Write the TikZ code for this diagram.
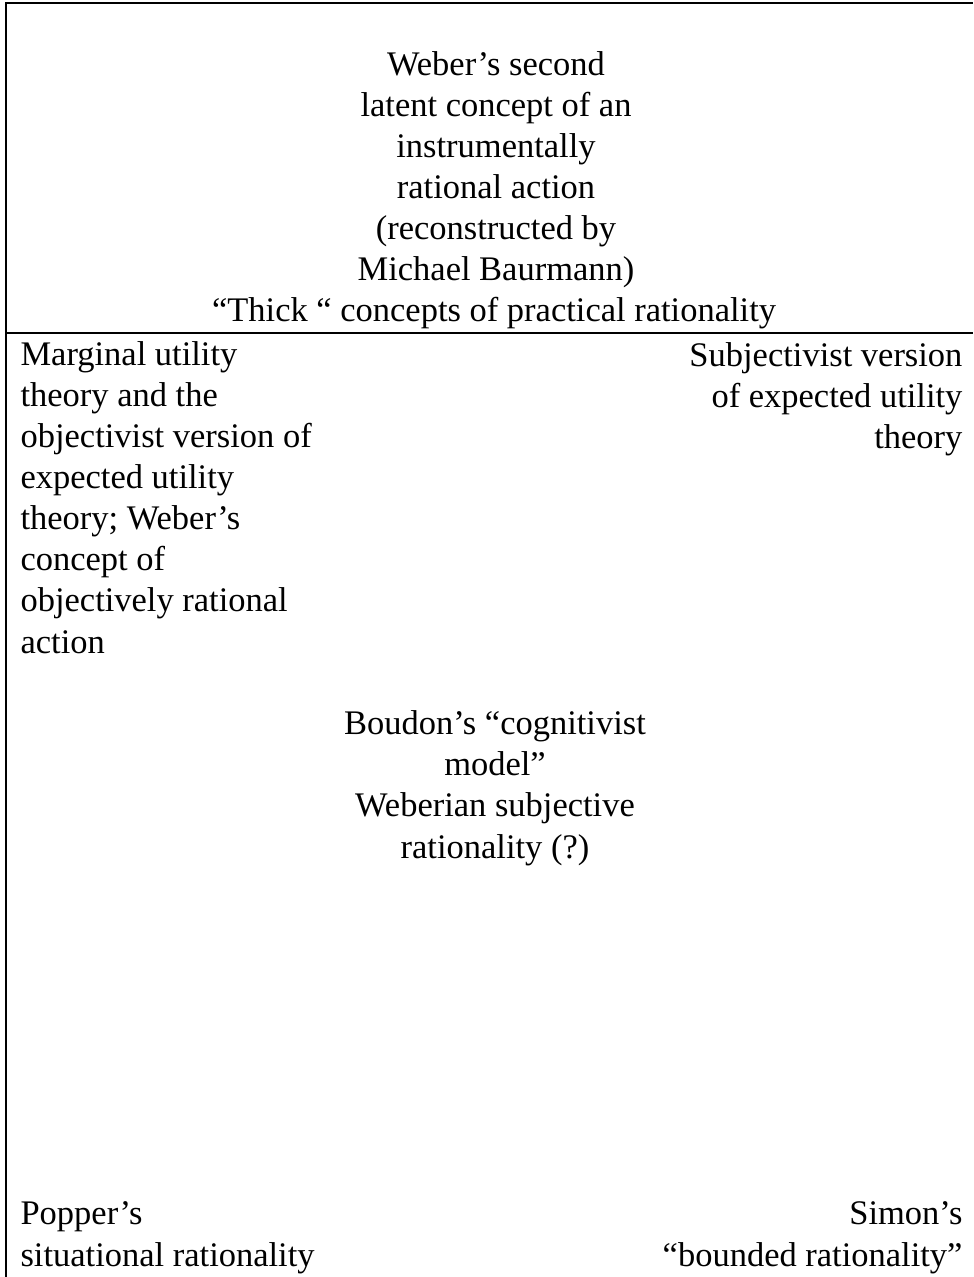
\documentclass[tikz,border=0pt]{standalone}
\usepackage{fontspec}
\setmainfont{Liberation Serif}
\usetikzlibrary{positioning}

\begin{document}
\begin{tikzpicture}[x=0.348pt,y=-0.348pt,
    txt/.style={inner sep=0pt,font=\fontsize{12pt}{14.3pt}\selectfont},
    rule/.style={line width=1pt}]
       \useasboundingbox (0,0) rectangle (973,1277);
       % multi-line nodes sit on the baseline of their last line
       \node[txt,align=center,anchor=base] (Weber) at (496,281)
          {Weber’s second\\latent concept of an\\instrumentally\\rational action\\(reconstructed by\\Michael Baurmann)};
       \node[txt,anchor=base] (Thick) at (494,322) {“Thick “ concepts of practical rationality};
       \node[txt,align=left,anchor=base west] (Marg) at (20,653)
          {Marginal utility\\theory and the\\objectivist version of\\expected utility\\theory; Weber’s\\concept of\\objectively rational\\action};
       \node[txt,align=right,anchor=base east] (Subj) at (963,449)
          {Subjectivist version\\of expected utility\\theory};
       \node[txt,align=center,anchor=base] (Boudon) at (495,858)
          {Boudon’s “cognitivist\\model”\\Weberian subjective\\rationality (?)};
       \node[txt,align=left,anchor=base west] (Popper) at (20,1266)
          {Popper’s\\situational rationality};
       \node[txt,align=right,anchor=base east] (Simon) at (963,1266)
          {Simon’s\\“bounded rationality”};
       \coordinate (TL) at (6,3);
       \coordinate (TR) at (973,3);
       \coordinate (BL) at (6,1277);
       \coordinate (ML) at (6,333);
       \coordinate (MR) at (973,333);
        \draw[rule] (BL) -- (TL) -- (TR);
        \draw[rule] (ML) -- (MR);
    \end{tikzpicture}
\end{document}
